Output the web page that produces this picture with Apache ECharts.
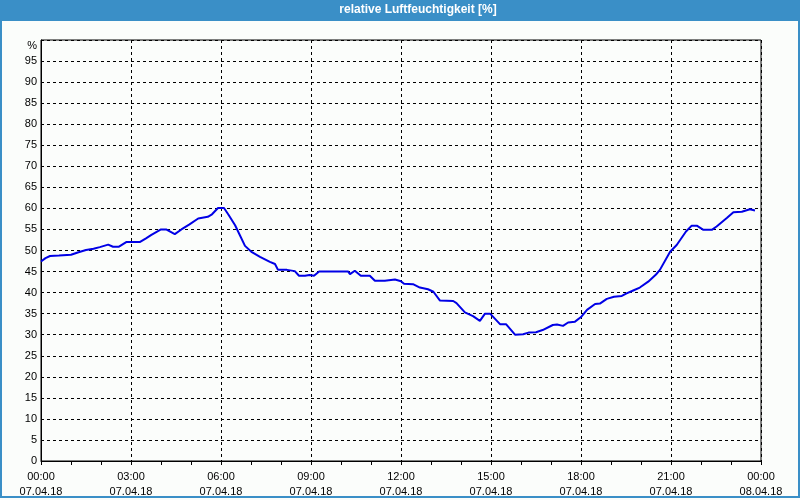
<!DOCTYPE html>
<html>
<head>
<meta charset="utf-8">
<script src="https://cdn.jsdelivr.net/npm/echarts@6/dist/echarts.min.js"></script>
<style>
html,body{margin:0;padding:0;background:#fbfdfb;}
#frame{position:absolute;left:0;top:0;width:796px;height:496px;border:2px solid #3a8fc7;border-top:none;}
#bar{position:absolute;left:0;top:0;width:800px;height:21px;background:#3a8fc7;}
#c{position:absolute;left:0;top:0;width:800px;height:500px;}
</style>
</head>
<body>
<div id="frame"></div>
<div id="bar"></div>
<div id="c"></div>
<script>
const titleText = 'relative Luftfeuchtigkeit [%]';
const hours = [0.0,0.15,0.3,0.6,1.0,1.25,1.5,1.75,1.96,2.24,2.4,2.6,2.84,3.29,3.5,3.68,4.0,4.17,4.46,4.68,4.95,5.24,5.56,5.7,5.9,6.1,6.25,6.47,6.8,7.03,7.3,7.63,7.8,7.9,8.2,8.46,8.6,8.8,8.95,9.1,9.27,10.24,10.3,10.46,10.66,10.96,11.13,11.46,11.5,11.8,12.0,12.1,12.4,12.63,12.9,13.08,13.3,13.74,13.85,14.13,14.4,14.63,14.8,14.97,15.3,15.5,15.8,16.07,16.25,16.5,16.72,17.06,17.2,17.4,17.57,17.8,18.0,18.2,18.47,18.63,18.86,19.1,19.36,19.52,19.74,19.96,20.24,20.5,20.63,20.97,21.19,21.5,21.69,21.86,22.08,22.36,22.52,22.86,23.08,23.36,23.63,23.8];
const humidity = [47.4,48.2,48.7,48.8,49.0,49.6,50.1,50.4,50.8,51.4,50.9,50.9,52.0,52.0,52.9,53.7,55.0,55.0,53.9,55.0,56.2,57.6,58.0,58.6,60.1,60.1,58.5,56.0,51.1,49.6,48.5,47.3,46.8,45.4,45.4,45.1,44.0,44.0,44.2,44.0,45.0,45.0,44.4,45.2,44.0,44.0,42.8,42.8,43.1,43.1,42.7,42.1,42.0,41.2,40.8,40.2,38.1,38.0,37.5,35.3,34.4,33.3,35.0,35.0,32.5,32.5,30.0,30.1,30.5,30.6,31.1,32.3,32.4,32.1,32.9,33.1,34.2,35.9,37.3,37.4,38.5,39.0,39.2,39.8,40.5,41.2,42.6,44.3,45.4,49.7,51.3,54.5,55.9,55.9,54.9,54.9,55.7,57.7,59.1,59.2,59.8,59.5];
const xTickHours = [0,3,6,9,12,15,18,21,24];
const xTickLabels = ['00:00\n07.04.18','03:00\n07.04.18','06:00\n07.04.18','09:00\n07.04.18','12:00\n07.04.18','15:00\n07.04.18','18:00\n07.04.18','21:00\n07.04.18','00:00\n08.04.18'];
const yUnit = '%';

const chart = echarts.init(document.getElementById('c'), null, {renderer:'canvas'});
const font = 'Liberation Sans';
const pairs = hours.map((h,i)=>[h, humidity[i]]);
chart.setOption({
  animation:false,
  backgroundColor:'transparent',
  graphic:[
    {type:'text', x:418, y:4,
      style:{text:titleText, font:'bold 12px "Liberation Sans"', fill:'#ffffff', textAlign:'center', textVerticalAlign:'top'}},
    {type:'text', x:37, y:40,
      style:{text:yUnit, font:'11px "Liberation Sans"', fill:'#000', textAlign:'right', textVerticalAlign:'top'}}
  ],
  grid:{left:41, right:39, top:40, bottom:39, show:true, borderColor:'#000', borderWidth:1, backgroundColor:'transparent'},
  xAxis:{type:'value', min:0, max:24, interval:3,
    axisLine:{show:true, lineStyle:{color:'#000', width:1}},
    axisTick:{show:true, length:4, lineStyle:{color:'#000'}},
    minorTick:{show:true, splitNumber:3, length:4, lineStyle:{color:'#000'}},
    splitLine:{show:true, lineStyle:{color:'#000', type:[3,3], width:1}},
    axisLabel:{fontFamily:font, fontSize:11, color:'#000', margin:8, lineHeight:15,
      formatter:function(v){const i=xTickHours.indexOf(v); return i>=0?xTickLabels[i]:'';}}
  },
  yAxis:{type:'value', min:0, max:100, interval:5,
    axisLine:{show:true, lineStyle:{color:'#000'}},
    axisTick:{show:false},
    splitLine:{show:true, lineStyle:{color:'#000', type:[3,3], width:1}},
    axisLabel:{fontFamily:font, fontSize:11, color:'#000', margin:4,
      formatter:function(v){return v>=100?'':String(v);}}
  },
  series:[{type:'line', data:pairs, showSymbol:false, symbol:'none',
    lineStyle:{color:'#0000e6', width:2}, z:5}]
});
</script>
</body>
</html>
